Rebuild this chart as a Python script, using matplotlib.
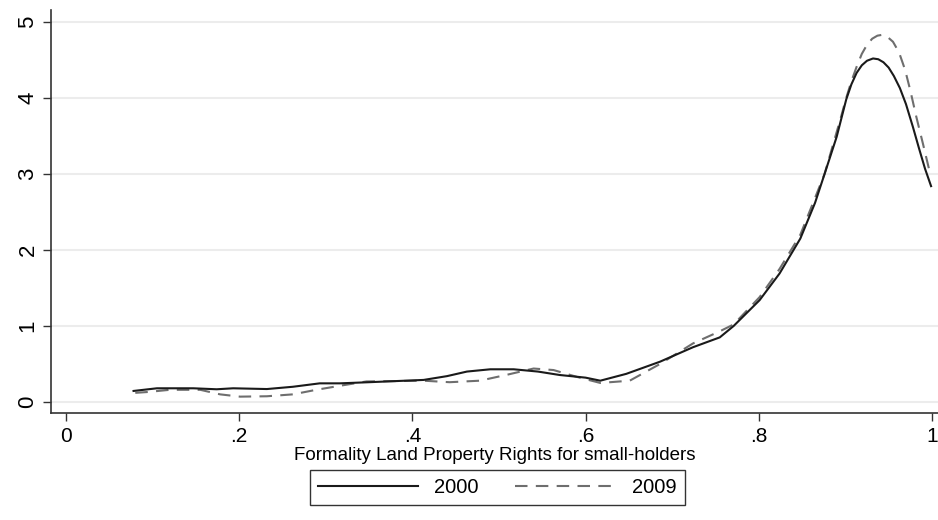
import numpy as np
import matplotlib
matplotlib.use('Agg')
import matplotlib.pyplot as plt

plt.rcParams['font.family'] = ['Liberation Sans', 'DejaVu Sans']

# kernel density values
x_2000 = [0.078, 0.105, 0.147, 0.174, 0.193, 0.232, 0.262, 0.293, 0.316, 0.350,
          0.413, 0.440, 0.463, 0.490, 0.517, 0.545, 0.570, 0.600, 0.617, 0.647,
          0.686, 0.724, 0.755, 0.771, 0.801, 0.824, 0.848, 0.865, 0.876, 0.890,
          0.901, 0.907, 0.913, 0.919, 0.925, 0.932, 0.938, 0.944, 0.950, 0.956,
          0.963, 0.970, 0.978, 0.985, 0.992, 0.999]
y_2000 = [0.145, 0.18, 0.18, 0.167, 0.18, 0.17, 0.20, 0.245, 0.245, 0.26,
          0.29, 0.34, 0.40, 0.43, 0.43, 0.40, 0.355, 0.32, 0.28, 0.37,
          0.53, 0.72, 0.85, 1.0, 1.34, 1.69, 2.15, 2.62, 3.0, 3.49,
          3.98, 4.18, 4.33, 4.43, 4.49, 4.52, 4.51, 4.47, 4.40, 4.29,
          4.13, 3.92, 3.62, 3.34, 3.07, 2.84]

x_2009 = [0.080, 0.093, 0.120, 0.155, 0.178, 0.201, 0.232, 0.262, 0.289, 0.320,
          0.347, 0.413, 0.443, 0.478, 0.510, 0.540, 0.563, 0.590, 0.617, 0.651,
          0.686, 0.724, 0.755, 0.771, 0.801, 0.824, 0.848, 0.876, 0.895, 0.901,
          0.907, 0.913, 0.919, 0.925, 0.931, 0.937, 0.942, 0.948, 0.955, 0.962,
          0.969, 0.975, 0.982, 0.990, 0.998]
y_2009 = [0.12, 0.13, 0.16, 0.16, 0.10, 0.07, 0.075, 0.10, 0.16, 0.22,
          0.27, 0.28, 0.26, 0.28, 0.36, 0.44, 0.42, 0.33, 0.25, 0.28,
          0.50, 0.77, 0.93, 1.02, 1.38, 1.75, 2.20, 3.0, 3.75, 4.0,
          4.22, 4.41, 4.58, 4.70, 4.78, 4.82, 4.83, 4.81, 4.74, 4.60,
          4.37, 4.10, 3.75, 3.38, 3.0]

x_ticks = [0, 0.2, 0.4, 0.6, 0.8, 1.0]
x_ticklabels = ['0', '.2', '.4', '.6', '.8', '1']
y_ticks = [0, 1, 2, 3, 4, 5]

fig = plt.figure(figsize=(9.38, 5.2), dpi=100)
ax = fig.add_axes([0.0544, 0.2058, 0.9456, 0.775])

ax.plot(x_2000, y_2000, color='#1a1a1a', lw=1.5, label='2000', zorder=3)
ax.plot(x_2009, y_2009, color='#6e6e6e', lw=1.5, dashes=(6, 4), label='2009', zorder=2)

ax.set_xlim(-0.0173, 1.007)
ax.set_ylim(-0.145, 5.158)
ax.set_xticks(x_ticks)
ax.set_xticklabels(x_ticklabels, fontsize=15)
ax.set_yticks(y_ticks)
ax.tick_params(axis='both', direction='out', length=6, width=1, color='#333333', pad=4)
ax.tick_params(axis='y', labelrotation=90, labelsize=16, pad=3)
for lab in ax.get_yticklabels():
    lab.set_va('center')

ax.grid(axis='y', color='#ececec', lw=1.5, zorder=0)
ax.set_axisbelow(True)
for side in ['top', 'right']:
    ax.spines[side].set_visible(False)
for side in ['left', 'bottom']:
    ax.spines[side].set_color('#333333')
    ax.spines[side].set_linewidth(1.2)

ax.set_xlabel('Formality Land Property Rights for small-holders', fontsize=13.5, labelpad=1)

leg = fig.legend(loc='center', bbox_to_anchor=(0.53, 0.0625), ncol=2, fontsize=14.5,
                 handlelength=5.0, columnspacing=1.8, frameon=True, fancybox=False,
                 edgecolor='#333333', framealpha=1, borderpad=0.4)
leg.get_frame().set_linewidth(1.0)

fig.savefig('out.png', dpi=100)
